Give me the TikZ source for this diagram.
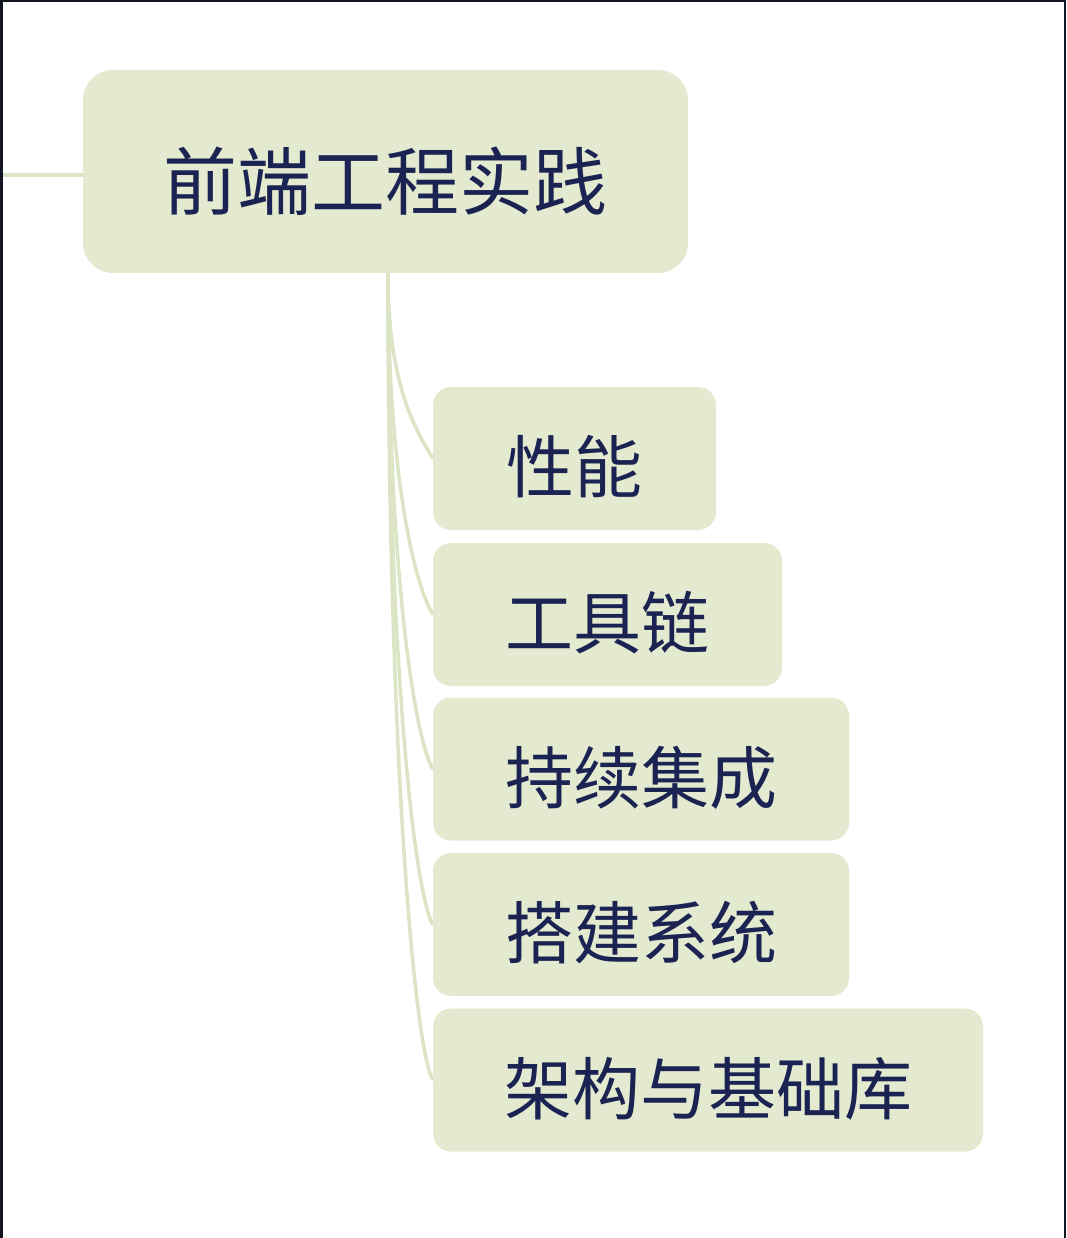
\documentclass[tikz,border=0pt]{standalone}
\usepackage{fontspec}
\newfontfamily\cjk{Noto Sans CJK SC}
\usetikzlibrary{calc}
\definecolor{boxfill}{HTML}{E3EACF}
\definecolor{linkcol}{HTML}{DCE4C6}
\definecolor{txtcol}{HTML}{1B2352}
\definecolor{framecol}{HTML}{111622}
\tikzset{
  rootbox/.style={draw=none, fill=boxfill, rounded corners=30pt, minimum width=605pt, minimum height=203pt, inner sep=0pt, text height=82pt, text depth=6pt, font=\cjk\fontsize{74}{80}\selectfont, text=txtcol},
  childbox/.style={draw=none, fill=boxfill, rounded corners=18pt, minimum height=143pt, inner sep=0pt, text height=74pt, text depth=6pt, font=\cjk\fontsize{68}{74}\selectfont, text=txtcol},
  link/.style={draw=linkcol, line width=3.5pt},
}
\begin{document}
\begin{tikzpicture}[x=1pt,y=-1pt]
\useasboundingbox (0,0) rectangle (1066,1238);
\fill[white] (0,0) rectangle (1066,1238);
% frame edges
\draw[framecol, line width=3pt] (1.5,0) -- (1.5,1238);
\draw[framecol, line width=2pt] (0,1) -- (1066,1) ;
\draw[framecol, line width=1.5pt] (1065,0) -- (1065,1238);

\node[rootbox] (root) at (385.5,171.5) {前端工程实践};
\coordinate (lfree) at (3,175);
\coordinate (hub) at (388,273);

\node[childbox, minimum width=283pt] (c1) at (574.5,458.5) {性能};
\node[childbox, minimum width=349pt] (c2) at (607.5,614.5) {工具链};
\node[childbox, minimum width=416pt] (c3) at (641,769) {持续集成};
\node[childbox, minimum width=416pt] (c4) at (641,924.5) {搭建系统};
\node[childbox, minimum width=550pt] (c5) at (708,1080) {架构与基础库};

\draw[link] (lfree) -- (root.west |- lfree);
\foreach \c in {c1,c2,c3,c4,c5}{
  \draw[link] (hub) .. controls ($(hub)!0.6!(hub |- \c.west)$) and ($(\c.west)+(-18,-30)$) .. (\c.west);
}
\end{tikzpicture}
\end{document}
